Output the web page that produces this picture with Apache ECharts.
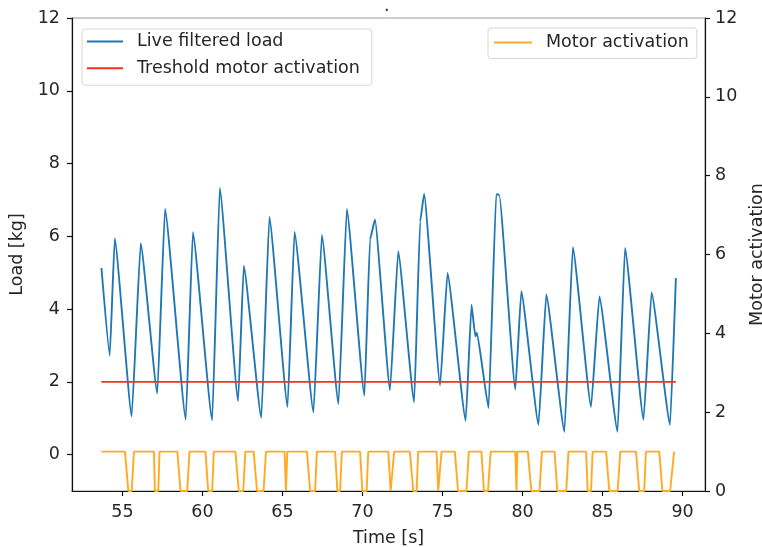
<!DOCTYPE html>
<html>
<head>
<meta charset="utf-8">
<script src="https://cdn.jsdelivr.net/npm/echarts@6/dist/echarts.min.js"></script>
<style>
  html, body { margin: 0; padding: 0; background: #fff; }
  #chart { width: 762px; height: 547px; }
</style>
</head>
<body>
<div id="chart"></div>
<script>
// Filtered load cell signal (time in s, load in kg)
const loadTime = [53.69, 54.21, 54.52, 55.58, 56.14, 57.18, 57.66, 58.96, 59.40, 60.61,
  61.08, 62.23, 62.58, 63.68, 64.18, 65.32, 65.75, 66.94, 67.46, 68.50,
  69.02, 70.12, 70.47, 70.78, 71.72, 72.23, 73.23, 73.60, 73.85, 74.85,
  75.31, 76.45, 76.81, 77.05, 77.15, 77.88, 78.35, 78.45, 78.55, 79.55,
  79.92, 81.00, 81.48, 82.62, 83.14, 84.28, 84.80, 85.94, 86.40, 87.56,
  88.06, 89.22, 89.58];
const loadValue = [5.13, 2.72, 5.95, 1.05, 5.81, 1.68, 6.75, 0.96, 6.11, 0.94,
  7.33, 1.47, 5.19, 1.01, 6.53, 1.31, 6.12, 1.16, 6.04, 1.39,
  6.75, 1.62, 5.91, 6.46, 1.77, 5.59, 1.44, 6.40, 7.17, 1.90,
  4.99, 0.93, 4.12, 3.25, 3.35, 1.28, 7.14, 7.16, 7.12, 1.79,
  4.49, 0.82, 4.40, 0.63, 5.70, 1.31, 4.35, 0.63, 5.68, 0.96,
  4.46, 0.82, 4.85];

// Threshold that switches the motor
const thresholdKg = 2;

// Motor on/off state
const motorTime = [53.69, 55.16, 55.37, 55.58, 55.72,
  56.97, 57.03, 57.24, 57.32,
  58.43, 58.63, 59.05, 59.19,
  60.19, 60.36, 60.61, 60.71,
  62.06, 62.27, 62.55, 62.68,
  63.20, 63.41, 63.82, 63.97,
  65.13, 65.22, 65.30,
  66.53, 66.73, 67.04, 67.15,
  68.29, 68.43, 68.60, 68.71,
  69.85, 69.99, 70.26, 70.36,
  71.61, 71.76, 71.88, 71.98,
  72.96, 73.17, 73.38, 73.48,
  74.63, 74.73, 74.94,
  75.77, 75.97, 76.50, 76.64,
  77.43, 77.59, 77.84, 78.01,
  79.55, 79.62, 79.68,
  80.33, 80.55, 81.06, 81.21,
  82.00, 82.17, 82.73, 82.87,
  83.97, 84.07, 84.28, 84.38,
  85.22, 85.42, 85.94, 86.11,
  87.09, 87.29, 87.60, 87.71,
  88.54, 88.74, 89.22, 89.47];
const motorValue = [1, 1, 0, 0, 1,
  1, 0, 0, 1,
  1, 0, 0, 1,
  1, 0, 0, 1,
  1, 0, 0, 1,
  1, 0, 0, 1,
  1, 0, 1,
  1, 0, 0, 1,
  1, 0, 0, 1,
  1, 0, 0, 1,
  1, 0, 0, 1,
  1, 0, 0, 1,
  1, 0, 1,
  1, 0, 0, 1,
  1, 0, 0, 1,
  1, 0, 1,
  1, 0, 0, 1,
  1, 0, 0, 1,
  1, 0, 0, 1,
  1, 0, 0, 1,
  1, 0, 0, 1,
  1, 0, 0, 1];

// Axis ticks
const timeTicks = [55, 60, 65, 70, 75, 80, 85, 90];
const loadTicks = [0, 2, 4, 6, 8, 10, 12];

const FONT = 'DejaVu Sans';
const FS = 17.5;
const TXT = '#262626';

const loadData = loadTime.map((t, i) => [t, loadValue[i]]);
const thresholdData = [[loadTime[0], thresholdKg], [loadTime[loadTime.length - 1], thresholdKg]];
const motorData = motorTime.map((t, i) => [t, motorValue[i]]);

const chart = echarts.init(document.getElementById('chart'), null, { renderer: 'canvas' });

const legendBase = {
  orient: 'vertical',
  icon: 'rect',
  itemWidth: 36,
  itemHeight: 2,
  itemGap: 6.7,
  backgroundColor: 'rgba(255,255,255,0.8)',
  borderColor: '#d6d6d6',
  borderWidth: 1,
  borderRadius: 3,
  textStyle: { fontFamily: FONT, fontSize: FS, color: TXT, lineHeight: 20, padding: [0, 0, 0, 9] }
};

chart.setOption({
  animation: false,
  backgroundColor: '#fff',
  title: {
    text: '.',
    left: 379,
    top: -8,
    textStyle: { fontFamily: FONT, fontSize: FS, fontWeight: 'normal', color: TXT }
  },
  grid: {
    left: 72, right: 57, top: 18, bottom: 56,
    outerBoundsMode: 'none',
    containLabel: false,
    show: true, borderColor: '#9a9a9a', borderWidth: 1, backgroundColor: 'transparent'
  },
  legend: [
    Object.assign({}, legendBase, {
      left: 82, top: 29,
      padding: [2.5, 12, 7, 5],
      data: ['Live filtered load', 'Treshold motor activation']
    }),
    Object.assign({}, legendBase, {
      left: 488, top: 28,
      padding: [4.5, 8, 6, 6],
      itemWidth: 38,
      data: ['Motor activation']
    })
  ],
  xAxis: {
    type: 'value',
    min: 51.85,
    max: 91.4,
    name: 'Time [s]',
    nameLocation: 'middle',
    nameGap: 38,
    nameTextStyle: { fontFamily: FONT, fontSize: FS, color: TXT },
    axisLine: { show: true, onZero: false, lineStyle: { color: '#111', width: 1.2 } },
    axisTick: { show: true, length: 5, customValues: timeTicks, lineStyle: { color: '#111', width: 1.2 } },
    axisLabel: { customValues: timeTicks, margin: 12, fontFamily: FONT, fontSize: FS, color: TXT },
    splitLine: { show: false }
  },
  yAxis: [
    {
      type: 'value',
      min: -1,
      max: 12,
      position: 'left',
      name: 'Load [kg]',
      nameLocation: 'middle',
      nameRotate: 90,
      nameGap: 41,
      nameTextStyle: { fontFamily: FONT, fontSize: FS, color: TXT },
      axisLine: { show: true, onZero: false, lineStyle: { color: '#111', width: 1.2 } },
      axisTick: { show: true, length: 5, customValues: loadTicks, lineStyle: { color: '#111', width: 1.2 } },
      axisLabel: { customValues: loadTicks, margin: 12, fontFamily: FONT, fontSize: FS, color: TXT },
      splitLine: { show: false }
    },
    {
      type: 'value',
      min: 0,
      max: 12,
      interval: 2,
      position: 'right',
      name: 'Motor activation',
      nameLocation: 'middle',
      nameRotate: 90,
      nameGap: 41,
      nameTextStyle: { fontFamily: FONT, fontSize: FS, color: TXT },
      axisLine: { show: true, onZero: false, lineStyle: { color: '#111', width: 1.2 } },
      axisTick: { show: true, length: 5, lineStyle: { color: '#111', width: 1.2 } },
      axisLabel: { margin: 10, fontFamily: FONT, fontSize: FS, color: TXT },
      splitLine: { show: false }
    }
  ],
  series: [
    {
      name: 'Live filtered load',
      type: 'line',
      yAxisIndex: 0,
      data: loadData,
      showSymbol: false,
      smooth: 0.12,
      smoothMonotone: 'x',
      color: '#1f77b4',
      lineStyle: { width: 1.9, color: '#1f77b4' },
      z: 2
    },
    {
      name: 'Treshold motor activation',
      type: 'line',
      yAxisIndex: 0,
      data: thresholdData,
      showSymbol: false,
      color: '#f0341f',
      lineStyle: { width: 1.9, color: '#f0341f' },
      z: 3
    },
    {
      name: 'Motor activation',
      type: 'line',
      yAxisIndex: 1,
      data: motorData,
      showSymbol: false,
      color: '#ffaa22',
      lineStyle: { width: 1.9, color: '#ffaa22' },
      z: 4
    }
  ]
});
</script>
</body>
</html>
